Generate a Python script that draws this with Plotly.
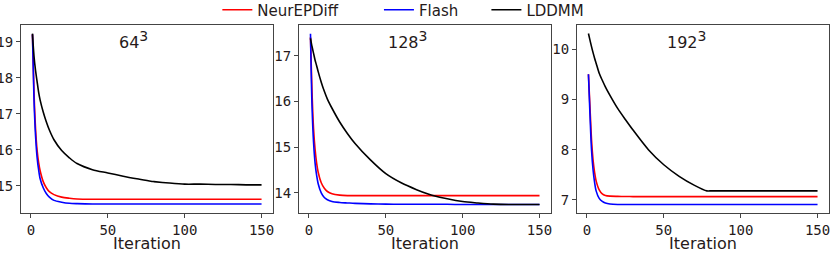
import plotly.graph_objects as go

iterations = [1, 2, 3, 4, 5, 6, 8, 10, 12, 15, 20, 25, 30, 40, 50, 60, 70, 78, 80, 90, 100, 110, 120, 130, 140, 150]

# 64^3
p1_neurepdiff = [19.2, 17.6, 16.6, 16.0, 15.65, 15.42, 15.12, 14.95, 14.84, 14.76, 14.69, 14.66, 14.64, 14.63, 14.63, 14.63, 14.63, 14.63, 14.63, 14.63, 14.63, 14.63, 14.63, 14.63, 14.63, 14.63]
p1_flash = [19.2, 17.4, 16.4, 15.8, 15.45, 15.2, 14.95, 14.79, 14.69, 14.6, 14.55, 14.52, 14.51, 14.5, 14.5, 14.5, 14.5, 14.5, 14.5, 14.5, 14.5, 14.5, 14.5, 14.5, 14.5, 14.5]
p1_lddmm = [19.22, 18.6, 18.2, 17.9, 17.6, 17.38, 17.05, 16.78, 16.55, 16.28, 15.98, 15.78, 15.62, 15.45, 15.36, 15.27, 15.19, 15.13, 15.12, 15.08, 15.05, 15.05, 15.04, 15.04, 15.03, 15.03]

# 128^3
p2_neurepdiff = [17.4, 16.2, 15.4, 14.95, 14.65, 14.45, 14.22, 14.1, 14.03, 13.98, 13.95, 13.94, 13.94, 13.94, 13.94, 13.94, 13.94, 13.94, 13.94, 13.94, 13.94, 13.94, 13.94, 13.94, 13.94, 13.94]
p2_flash = [17.48, 15.9, 15.1, 14.65, 14.38, 14.2, 14.0, 13.9, 13.85, 13.81, 13.79, 13.78, 13.77, 13.76, 13.755, 13.75, 13.75, 13.75, 13.75, 13.75, 13.745, 13.745, 13.745, 13.745, 13.745, 13.745]
p2_lddmm = [17.38, 17.2, 17.05, 16.9, 16.78, 16.65, 16.42, 16.22, 16.05, 15.85, 15.55, 15.3, 15.08, 14.72, 14.42, 14.22, 14.07, 13.97, 13.95, 13.87, 13.81, 13.78, 13.755, 13.745, 13.745, 13.745]

# 192^3
p3_neurepdiff = [9.5, 8.85, 8.2, 7.8, 7.55, 7.38, 7.2, 7.12, 7.09, 7.075, 7.07, 7.068, 7.066, 7.066, 7.066, 7.066, 7.066, 7.066, 7.066, 7.066, 7.066, 7.066, 7.066, 7.066, 7.066, 7.066]
p3_flash = [9.5, 8.7, 8.0, 7.6, 7.35, 7.18, 7.03, 6.97, 6.94, 6.92, 6.91, 6.91, 6.91, 6.91, 6.91, 6.91, 6.91, 6.91, 6.91, 6.91, 6.91, 6.91, 6.91, 6.91, 6.91, 6.91]
p3_lddmm = [10.31, 10.18, 10.05, 9.93, 9.82, 9.72, 9.52, 9.38, 9.25, 9.08, 8.82, 8.6, 8.39, 8.0, 7.7, 7.47, 7.29, 7.18, 7.18, 7.18, 7.18, 7.18, 7.18, 7.18, 7.18, 7.18]

panel_bases = ["64", "128", "192"]
panel_exps = ["3", "3", "3"]
series_names = ["NeurEPDiff", "Flash", "LDDMM"]
series_colors = ["#ff0000", "#0000ff", "#000000"]
panels = [
    [p1_neurepdiff, p1_flash, p1_lddmm],
    [p2_neurepdiff, p2_flash, p2_lddmm],
    [p3_neurepdiff, p3_flash, p3_lddmm],
]
y_ranges = [[14.25, 19.46], [13.56, 17.67], [6.74, 10.48]]
y_ticks = [[15, 16, 17, 18, 19], [14, 15, 16, 17], [7, 8, 9, 10]]
x_ticks = [0, 50, 100, 150]
x_domains = [[0, 0.3119], [0.3441, 0.6559], [0.6881, 1.0]]
title_x = [0.445, 0.43, 0.435]

TXT = "#261a1a"
AX = "#444444"

fig = go.Figure()
legend_names = ["legend", "legend2", "legend3"]
for pi, series in enumerate(panels):
    suffix = "" if pi == 0 else str(pi + 1)
    for si, vals in enumerate(series):
        fig.add_trace(go.Scatter(
            x=iterations, y=vals, mode="lines", name=series_names[si],
            line=dict(color=series_colors[si], width=1.6, shape="spline", smoothing=0.8),
            xaxis="x" + suffix, yaxis="y" + suffix,
            showlegend=(pi == 0), legend=legend_names[si],
        ))

layout = dict(
    width=831, height=253,
    margin=dict(l=21, r=2, t=25, b=40, autoexpand=False),
    paper_bgcolor="white", plot_bgcolor="white",
    font=dict(family="DejaVu Sans", color=TXT, size=15),
)
for pi in range(3):
    suffix = "" if pi == 0 else str(pi + 1)
    layout["xaxis" + suffix] = dict(
        domain=x_domains[pi], range=[-6.45, 157.45], anchor="y" + suffix,
        tickvals=x_ticks, ticks="outside", ticklen=4, tickcolor=AX,
        showline=True, linecolor=AX, linewidth=1, mirror=True, showgrid=False, zeroline=False,
        tickfont=dict(family="DejaVu Sans Mono", size=14, color=TXT),
        title=dict(text="Iteration", font=dict(family="DejaVu Sans", size=16, color=TXT), standoff=2),
    )
    layout["yaxis" + suffix] = dict(
        domain=[0, 1], range=y_ranges[pi], anchor="x" + suffix,
        tickvals=y_ticks[pi], ticks="outside", ticklen=4, tickcolor=AX,
        showline=True, linecolor=AX, linewidth=1, mirror=True, showgrid=False, zeroline=False,
        tickfont=dict(family="DejaVu Sans Mono", size=14, color=TXT),
    )

leg_x = [0.243, 0.443, 0.576]
for li, ln in enumerate(legend_names):
    layout[ln] = dict(
        orientation="h", x=leg_x[li], xanchor="left", y=1.08, yanchor="middle",
        font=dict(family="DejaVu Sans", size=15, color=TXT), bgcolor="rgba(0,0,0,0)",
    )

annotations = []
for pi in range(3):
    suffix = "" if pi == 0 else str(pi + 1)
    annotations.append(dict(
        text=panel_bases[pi] + "<sup><span style='font-size:14px'>" + panel_exps[pi] + "</span></sup>",
        xref="x" + suffix + " domain", yref="y" + suffix + " domain",
        x=title_x[pi], y=0.92, showarrow=False, xanchor="center", yanchor="middle",
        font=dict(family="DejaVu Sans", size=16, color=TXT),
    ))
layout["annotations"] = annotations

fig.update_layout(**layout)
fig.write_html(
    "out.html",
    config={"displayModeBar": False},
    post_script="document.body.style.margin='0';document.body.style.overflow='hidden';",
)
